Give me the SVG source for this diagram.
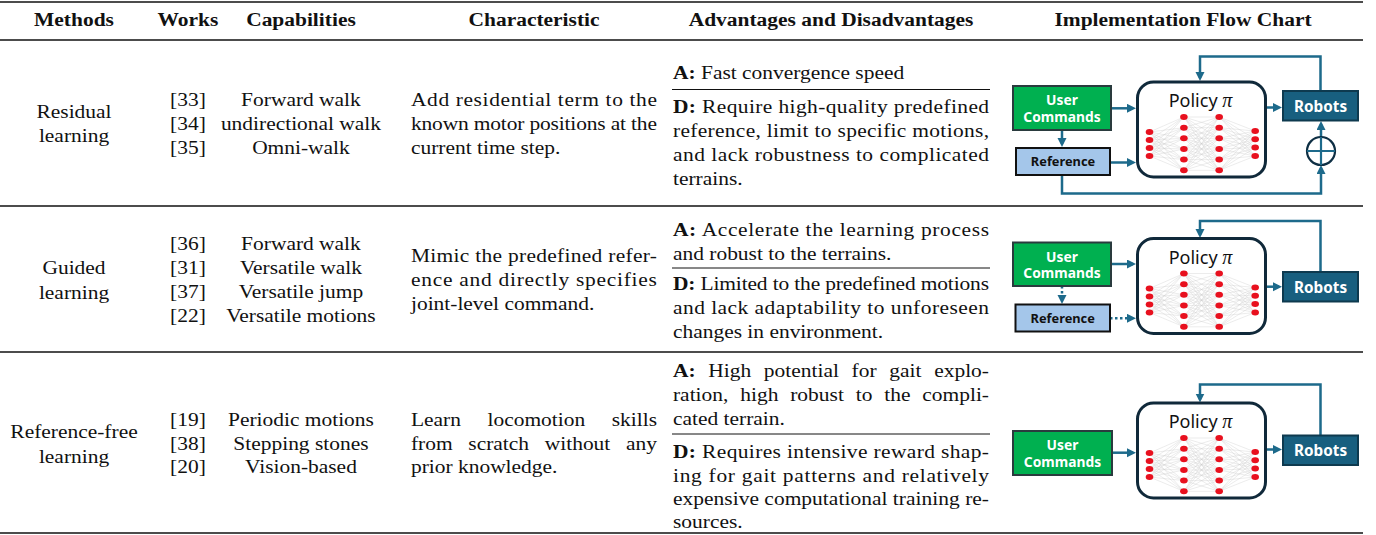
<svg xmlns="http://www.w3.org/2000/svg" xmlns:xlink="http://www.w3.org/1999/xlink" width="1376" height="535" viewBox="0 0 1376 535">
<style>
.t{font-family:"Liberation Serif","Times New Roman",serif;font-size:19.5px;fill:#111}
.b{font-weight:bold}
.c{text-anchor:middle}
.rule{stroke:#111;stroke-width:1.3}
.sep{stroke:#111;stroke-width:1}
.box{stroke-width:2}
.lbl{font-family:"Noto Sans","Liberation Sans",Arial,sans-serif;font-weight:bold;text-anchor:middle}
.conn{fill:none;stroke:#1d6a8b;stroke-width:2.5}
.dot{stroke-dasharray:2.5 2.5}
.nnl line{stroke:#c9c9c9;stroke-width:0.35}
.n{fill:#e8101e}
</style>
<defs>
<marker id="ah" markerUnits="userSpaceOnUse" markerWidth="10" markerHeight="10" refX="6" refY="4.5" orient="auto">
<path d="M0,0 L9,4.5 L0,9 z" fill="#1d6a8b"/>
</marker>
<g id="policy">
<rect x="0" y="0" width="128" height="95" rx="16" fill="#fff" stroke="#10293a" stroke-width="3"/>
<g class="nnl">
<line x1="12" y1="50" x2="46.4" y2="35"/><line x1="12" y1="50" x2="46.4" y2="45.7"/><line x1="12" y1="50" x2="46.4" y2="56.3"/><line x1="12" y1="50" x2="46.4" y2="67"/><line x1="12" y1="50" x2="46.4" y2="77.6"/><line x1="12" y1="50" x2="46.4" y2="88.3"/>
<line x1="12" y1="58" x2="46.4" y2="35"/><line x1="12" y1="58" x2="46.4" y2="45.7"/><line x1="12" y1="58" x2="46.4" y2="56.3"/><line x1="12" y1="58" x2="46.4" y2="67"/><line x1="12" y1="58" x2="46.4" y2="77.6"/><line x1="12" y1="58" x2="46.4" y2="88.3"/>
<line x1="12" y1="66" x2="46.4" y2="35"/><line x1="12" y1="66" x2="46.4" y2="45.7"/><line x1="12" y1="66" x2="46.4" y2="56.3"/><line x1="12" y1="66" x2="46.4" y2="67"/><line x1="12" y1="66" x2="46.4" y2="77.6"/><line x1="12" y1="66" x2="46.4" y2="88.3"/>
<line x1="12" y1="74" x2="46.4" y2="35"/><line x1="12" y1="74" x2="46.4" y2="45.7"/><line x1="12" y1="74" x2="46.4" y2="56.3"/><line x1="12" y1="74" x2="46.4" y2="67"/><line x1="12" y1="74" x2="46.4" y2="77.6"/><line x1="12" y1="74" x2="46.4" y2="88.3"/>
<line x1="46.4" y1="35" x2="81.7" y2="35"/><line x1="46.4" y1="35" x2="81.7" y2="45.7"/><line x1="46.4" y1="35" x2="81.7" y2="56.3"/><line x1="46.4" y1="35" x2="81.7" y2="67"/><line x1="46.4" y1="35" x2="81.7" y2="77.6"/><line x1="46.4" y1="35" x2="81.7" y2="88.3"/>
<line x1="46.4" y1="45.7" x2="81.7" y2="35"/><line x1="46.4" y1="45.7" x2="81.7" y2="45.7"/><line x1="46.4" y1="45.7" x2="81.7" y2="56.3"/><line x1="46.4" y1="45.7" x2="81.7" y2="67"/><line x1="46.4" y1="45.7" x2="81.7" y2="77.6"/><line x1="46.4" y1="45.7" x2="81.7" y2="88.3"/>
<line x1="46.4" y1="56.3" x2="81.7" y2="35"/><line x1="46.4" y1="56.3" x2="81.7" y2="45.7"/><line x1="46.4" y1="56.3" x2="81.7" y2="56.3"/><line x1="46.4" y1="56.3" x2="81.7" y2="67"/><line x1="46.4" y1="56.3" x2="81.7" y2="77.6"/><line x1="46.4" y1="56.3" x2="81.7" y2="88.3"/>
<line x1="46.4" y1="67" x2="81.7" y2="35"/><line x1="46.4" y1="67" x2="81.7" y2="45.7"/><line x1="46.4" y1="67" x2="81.7" y2="56.3"/><line x1="46.4" y1="67" x2="81.7" y2="67"/><line x1="46.4" y1="67" x2="81.7" y2="77.6"/><line x1="46.4" y1="67" x2="81.7" y2="88.3"/>
<line x1="46.4" y1="77.6" x2="81.7" y2="35"/><line x1="46.4" y1="77.6" x2="81.7" y2="45.7"/><line x1="46.4" y1="77.6" x2="81.7" y2="56.3"/><line x1="46.4" y1="77.6" x2="81.7" y2="67"/><line x1="46.4" y1="77.6" x2="81.7" y2="77.6"/><line x1="46.4" y1="77.6" x2="81.7" y2="88.3"/>
<line x1="46.4" y1="88.3" x2="81.7" y2="35"/><line x1="46.4" y1="88.3" x2="81.7" y2="45.7"/><line x1="46.4" y1="88.3" x2="81.7" y2="56.3"/><line x1="46.4" y1="88.3" x2="81.7" y2="67"/><line x1="46.4" y1="88.3" x2="81.7" y2="77.6"/><line x1="46.4" y1="88.3" x2="81.7" y2="88.3"/>
<line x1="81.7" y1="35" x2="117.7" y2="49"/><line x1="81.7" y1="35" x2="117.7" y2="57.3"/><line x1="81.7" y1="35" x2="117.7" y2="65.6"/><line x1="81.7" y1="35" x2="117.7" y2="74"/>
<line x1="81.7" y1="45.7" x2="117.7" y2="49"/><line x1="81.7" y1="45.7" x2="117.7" y2="57.3"/><line x1="81.7" y1="45.7" x2="117.7" y2="65.6"/><line x1="81.7" y1="45.7" x2="117.7" y2="74"/>
<line x1="81.7" y1="56.3" x2="117.7" y2="49"/><line x1="81.7" y1="56.3" x2="117.7" y2="57.3"/><line x1="81.7" y1="56.3" x2="117.7" y2="65.6"/><line x1="81.7" y1="56.3" x2="117.7" y2="74"/>
<line x1="81.7" y1="67" x2="117.7" y2="49"/><line x1="81.7" y1="67" x2="117.7" y2="57.3"/><line x1="81.7" y1="67" x2="117.7" y2="65.6"/><line x1="81.7" y1="67" x2="117.7" y2="74"/>
<line x1="81.7" y1="77.6" x2="117.7" y2="49"/><line x1="81.7" y1="77.6" x2="117.7" y2="57.3"/><line x1="81.7" y1="77.6" x2="117.7" y2="65.6"/><line x1="81.7" y1="77.6" x2="117.7" y2="74"/>
<line x1="81.7" y1="88.3" x2="117.7" y2="49"/><line x1="81.7" y1="88.3" x2="117.7" y2="57.3"/><line x1="81.7" y1="88.3" x2="117.7" y2="65.6"/><line x1="81.7" y1="88.3" x2="117.7" y2="74"/>
</g>
<g class="n">
<ellipse cx="12" cy="50" rx="3.8" ry="3"/><ellipse cx="12" cy="58" rx="3.8" ry="3"/><ellipse cx="12" cy="66" rx="3.8" ry="3"/><ellipse cx="12" cy="74" rx="3.8" ry="3"/>
<ellipse cx="46.4" cy="35" rx="3.8" ry="3"/><ellipse cx="46.4" cy="45.7" rx="3.8" ry="3"/><ellipse cx="46.4" cy="56.3" rx="3.8" ry="3"/><ellipse cx="46.4" cy="67" rx="3.8" ry="3"/><ellipse cx="46.4" cy="77.6" rx="3.8" ry="3"/><ellipse cx="46.4" cy="88.3" rx="3.8" ry="3"/>
<ellipse cx="81.7" cy="35" rx="3.8" ry="3"/><ellipse cx="81.7" cy="45.7" rx="3.8" ry="3"/><ellipse cx="81.7" cy="56.3" rx="3.8" ry="3"/><ellipse cx="81.7" cy="67" rx="3.8" ry="3"/><ellipse cx="81.7" cy="77.6" rx="3.8" ry="3"/><ellipse cx="81.7" cy="88.3" rx="3.8" ry="3"/>
<ellipse cx="117.7" cy="49" rx="3.8" ry="3"/><ellipse cx="117.7" cy="57.3" rx="3.8" ry="3"/><ellipse cx="117.7" cy="65.6" rx="3.8" ry="3"/><ellipse cx="117.7" cy="74" rx="3.8" ry="3"/>
</g>
<text x="63" y="25" font-family="Noto Sans,Liberation Sans,Arial,sans-serif" font-size="18" text-anchor="middle" fill="#111">Policy <tspan font-family="Liberation Serif,serif" font-style="italic" font-size="20">π</tspan></text>
</g>
</defs>

<rect width="1376" height="535" fill="#fff"/>

<g id="table-rules">
<line class="rule" x1="0" y1="2" x2="1363" y2="2" stroke-width="1.6"/>
<line class="rule" x1="0" y1="40" x2="1363" y2="40"/>
<line class="rule" x1="0" y1="206" x2="1363" y2="206"/>
<line class="rule" x1="0" y1="352" x2="1363" y2="352"/>
<line class="rule" x1="0" y1="533" x2="1363" y2="533" stroke-width="1.6"/>
<line class="sep" x1="672" y1="89.5" x2="990" y2="89.5"/>
<line class="sep" x1="672" y1="268" x2="990" y2="268"/>
<line class="sep" x1="672" y1="434" x2="990" y2="434"/>
</g>

<g id="table-text" transform="scale(1.1,1)">
<g id="header" class="t b c">
<text x="67.3" y="26">Methods</text>
<text x="170.9" y="26">Works</text>
<text x="273.6" y="26">Capabilities</text>
<text x="485.5" y="26">Characteristic</text>
<text x="755.5" y="26">Advantages and Disadvantages</text>
<text x="1075.5" y="26">Implementation Flow Chart</text>
</g>
<g id="row1" class="t">
<text class="c" x="67.3" y="118">Residual</text>
<text class="c" x="67.3" y="142">learning</text>
<text class="c" x="170.9" y="106">[33]</text>
<text class="c" x="170.9" y="130">[34]</text>
<text class="c" x="170.9" y="154">[35]</text>
<text class="c" x="273.6" y="106">Forward walk</text>
<text class="c" x="273.6" y="130">undirectional walk</text>
<text class="c" x="273.6" y="154">Omni-walk</text>
<text x="373.6" y="106" textLength="223.6" lengthAdjust="spacing">Add residential term to the</text>
<text x="373.6" y="130" textLength="223.6" lengthAdjust="spacing">known motor positions at the</text>
<text x="373.6" y="154">current time step.</text>
<text x="611.8" y="79"><tspan class="b">A:</tspan> Fast convergence speed</text>
<text x="611.8" y="113" textLength="287.3" lengthAdjust="spacing"><tspan class="b">D:</tspan> Require high-quality predefined</text>
<text x="611.8" y="137" textLength="287.3" lengthAdjust="spacing">reference, limit to specific motions,</text>
<text x="611.8" y="161" textLength="287.3" lengthAdjust="spacing">and lack robustness to complicated</text>
<text x="611.8" y="185">terrains.</text>
</g>
<g id="row2" class="t">
<text class="c" x="67.3" y="274">Guided</text>
<text class="c" x="67.3" y="299">learning</text>
<text class="c" x="170.9" y="250">[36]</text>
<text class="c" x="170.9" y="274">[31]</text>
<text class="c" x="170.9" y="298">[37]</text>
<text class="c" x="170.9" y="322">[22]</text>
<text class="c" x="273.6" y="250">Forward walk</text>
<text class="c" x="273.6" y="274">Versatile walk</text>
<text class="c" x="273.6" y="298">Versatile jump</text>
<text class="c" x="273.6" y="322">Versatile motions</text>
<text x="373.6" y="262" textLength="223.6" lengthAdjust="spacing">Mimic the predefined refer-</text>
<text x="373.6" y="286" textLength="223.6" lengthAdjust="spacing">ence and directly specifies</text>
<text x="373.6" y="310">joint-level command.</text>
<text x="611.8" y="236" textLength="287.3" lengthAdjust="spacing"><tspan class="b">A:</tspan> Accelerate the learning process</text>
<text x="611.8" y="260">and robust to the terrains.</text>
<text x="611.8" y="290" textLength="287.3" lengthAdjust="spacing"><tspan class="b">D:</tspan> Limited to the predefined motions</text>
<text x="611.8" y="314" textLength="287.3" lengthAdjust="spacing">and lack adaptability to unforeseen</text>
<text x="611.8" y="338">changes in environment.</text>
</g>
<g id="row3" class="t">
<text class="c" x="67.3" y="438">Reference-free</text>
<text class="c" x="67.3" y="463">learning</text>
<text class="c" x="170.9" y="426">[19]</text>
<text class="c" x="170.9" y="450">[38]</text>
<text class="c" x="170.9" y="473">[20]</text>
<text class="c" x="273.6" y="426">Periodic motions</text>
<text class="c" x="273.6" y="450">Stepping stones</text>
<text class="c" x="273.6" y="473">Vision-based</text>
<text x="373.6" y="426"><tspan>Learn</tspan><tspan x="443.2">locomotion</tspan><tspan x="597.3" text-anchor="end">skills</tspan></text>
<text x="373.6" y="450" word-spacing="9.3" textLength="223.6" lengthAdjust="spacing">from scratch without any</text>
<text x="373.6" y="473">prior knowledge.</text>
<text x="611.8" y="377" word-spacing="6.6" textLength="287.3" lengthAdjust="spacing"><tspan class="b">A:</tspan> High potential for gait explo-</text>
<text x="611.8" y="401" word-spacing="5.9" textLength="287.3" lengthAdjust="spacing">ration, high robust to the compli-</text>
<text x="611.8" y="425">cated terrain.</text>
<text x="611.8" y="458" textLength="287.3" lengthAdjust="spacing"><tspan class="b">D:</tspan> Requires intensive reward shap-</text>
<text x="611.8" y="482" textLength="287.3" lengthAdjust="spacing">ing for gait patterns and relatively</text>
<text x="611.8" y="505" textLength="287.3" lengthAdjust="spacing">expensive computational training re-</text>
<text x="611.8" y="528">sources.</text>
</g>
</g>

<g id="connectors">
<path class="conn" d="M1320.5,91 V56.5 H1200 V78" marker-end="url(#ah)"/>
<path class="conn" d="M1111,108.3 H1133" marker-end="url(#ah)"/>
<path class="conn" d="M1110,162.5 H1133" marker-end="url(#ah)"/>
<path class="conn" d="M1062,130 V144" marker-end="url(#ah)"/>
<path class="conn" d="M1266,107.5 H1279" marker-end="url(#ah)"/>
<path class="conn" d="M1321,137 V124" marker-end="url(#ah)"/>
<path class="conn" d="M1062,175 V193.5 H1321 V168" marker-end="url(#ah)"/>
<path class="conn" d="M1320.5,272 V221 H1200 V235" marker-end="url(#ah)"/>
<path class="conn" d="M1111,264 H1133" marker-end="url(#ah)"/>
<path class="conn dot" d="M1110,318.3 H1133" marker-end="url(#ah)"/>
<path class="conn dot" d="M1062,286 V301" marker-end="url(#ah)"/>
<path class="conn" d="M1266,286.7 H1279" marker-end="url(#ah)"/>
<path class="conn" d="M1320.5,435.5 V384.5 H1200 V399.5" marker-end="url(#ah)"/>
<path class="conn" d="M1112,452.7 H1133" marker-end="url(#ah)"/>
<path class="conn" d="M1266,449.5 H1279" marker-end="url(#ah)"/>
</g>

<g id="sum-node">
<circle cx="1321" cy="151" r="14" fill="#fff" stroke="#0e2f44" stroke-width="2.2"/>
<path d="M1307,151 H1335 M1321,137 V165" stroke="#1d6a8b" stroke-width="2.2" fill="none"/>
</g>

<g id="policy-1"><use xlink:href="#policy" transform="translate(1137.5,82)"/></g>
<g id="policy-2"><use xlink:href="#policy" transform="translate(1137.5,238.5)"/></g>
<g id="policy-3"><use xlink:href="#policy" transform="translate(1137.5,403)"/></g>

<g id="user-1">
<rect class="box" x="1013" y="86" width="98" height="44" fill="#00b050" stroke="#2a3b3e"/>
<text class="lbl" x="1062" y="105" font-size="13.8" fill="#fff">User</text>
<text class="lbl" x="1062" y="121.5" font-size="13.8" fill="#fff">Commands</text>
</g>
<g id="reference-1">
<rect class="box" x="1016" y="148" width="94" height="27" fill="#a4c6ea" stroke="#111"/>
<text class="lbl" x="1063" y="166" font-size="12.8" fill="#111">Reference</text>
</g>
<g id="robots-1">
<rect class="box" x="1283" y="91" width="75" height="29.5" fill="#185f7f" stroke="#0e3a4f"/>
<text class="lbl" x="1320.5" y="111.5" font-size="15.3" fill="#fff">Robots</text>
</g>

<g id="user-2">
<rect class="box" x="1013" y="242.5" width="98" height="43.5" fill="#00b050" stroke="#2a3b3e"/>
<text class="lbl" x="1062" y="261.5" font-size="13.8" fill="#fff">User</text>
<text class="lbl" x="1062" y="278" font-size="13.8" fill="#fff">Commands</text>
</g>
<g id="reference-2">
<rect class="box" x="1015.5" y="304.5" width="94.5" height="27" fill="#a4c6ea" stroke="#111"/>
<text class="lbl" x="1062.7" y="322.5" font-size="12.8" fill="#111">Reference</text>
</g>
<g id="robots-2">
<rect class="box" x="1283" y="272" width="75" height="29.5" fill="#185f7f" stroke="#0e3a4f"/>
<text class="lbl" x="1320.5" y="292.5" font-size="15.3" fill="#fff">Robots</text>
</g>

<g id="user-3">
<rect class="box" x="1013" y="431" width="99" height="44" fill="#00b050" stroke="#2a3b3e"/>
<text class="lbl" x="1062.5" y="450" font-size="13.8" fill="#fff">User</text>
<text class="lbl" x="1062.5" y="466.5" font-size="13.8" fill="#fff">Commands</text>
</g>
<g id="robots-3">
<rect class="box" x="1283" y="435.5" width="75" height="29.5" fill="#185f7f" stroke="#0e3a4f"/>
<text class="lbl" x="1320.5" y="456" font-size="15.3" fill="#fff">Robots</text>
</g>
</svg>
